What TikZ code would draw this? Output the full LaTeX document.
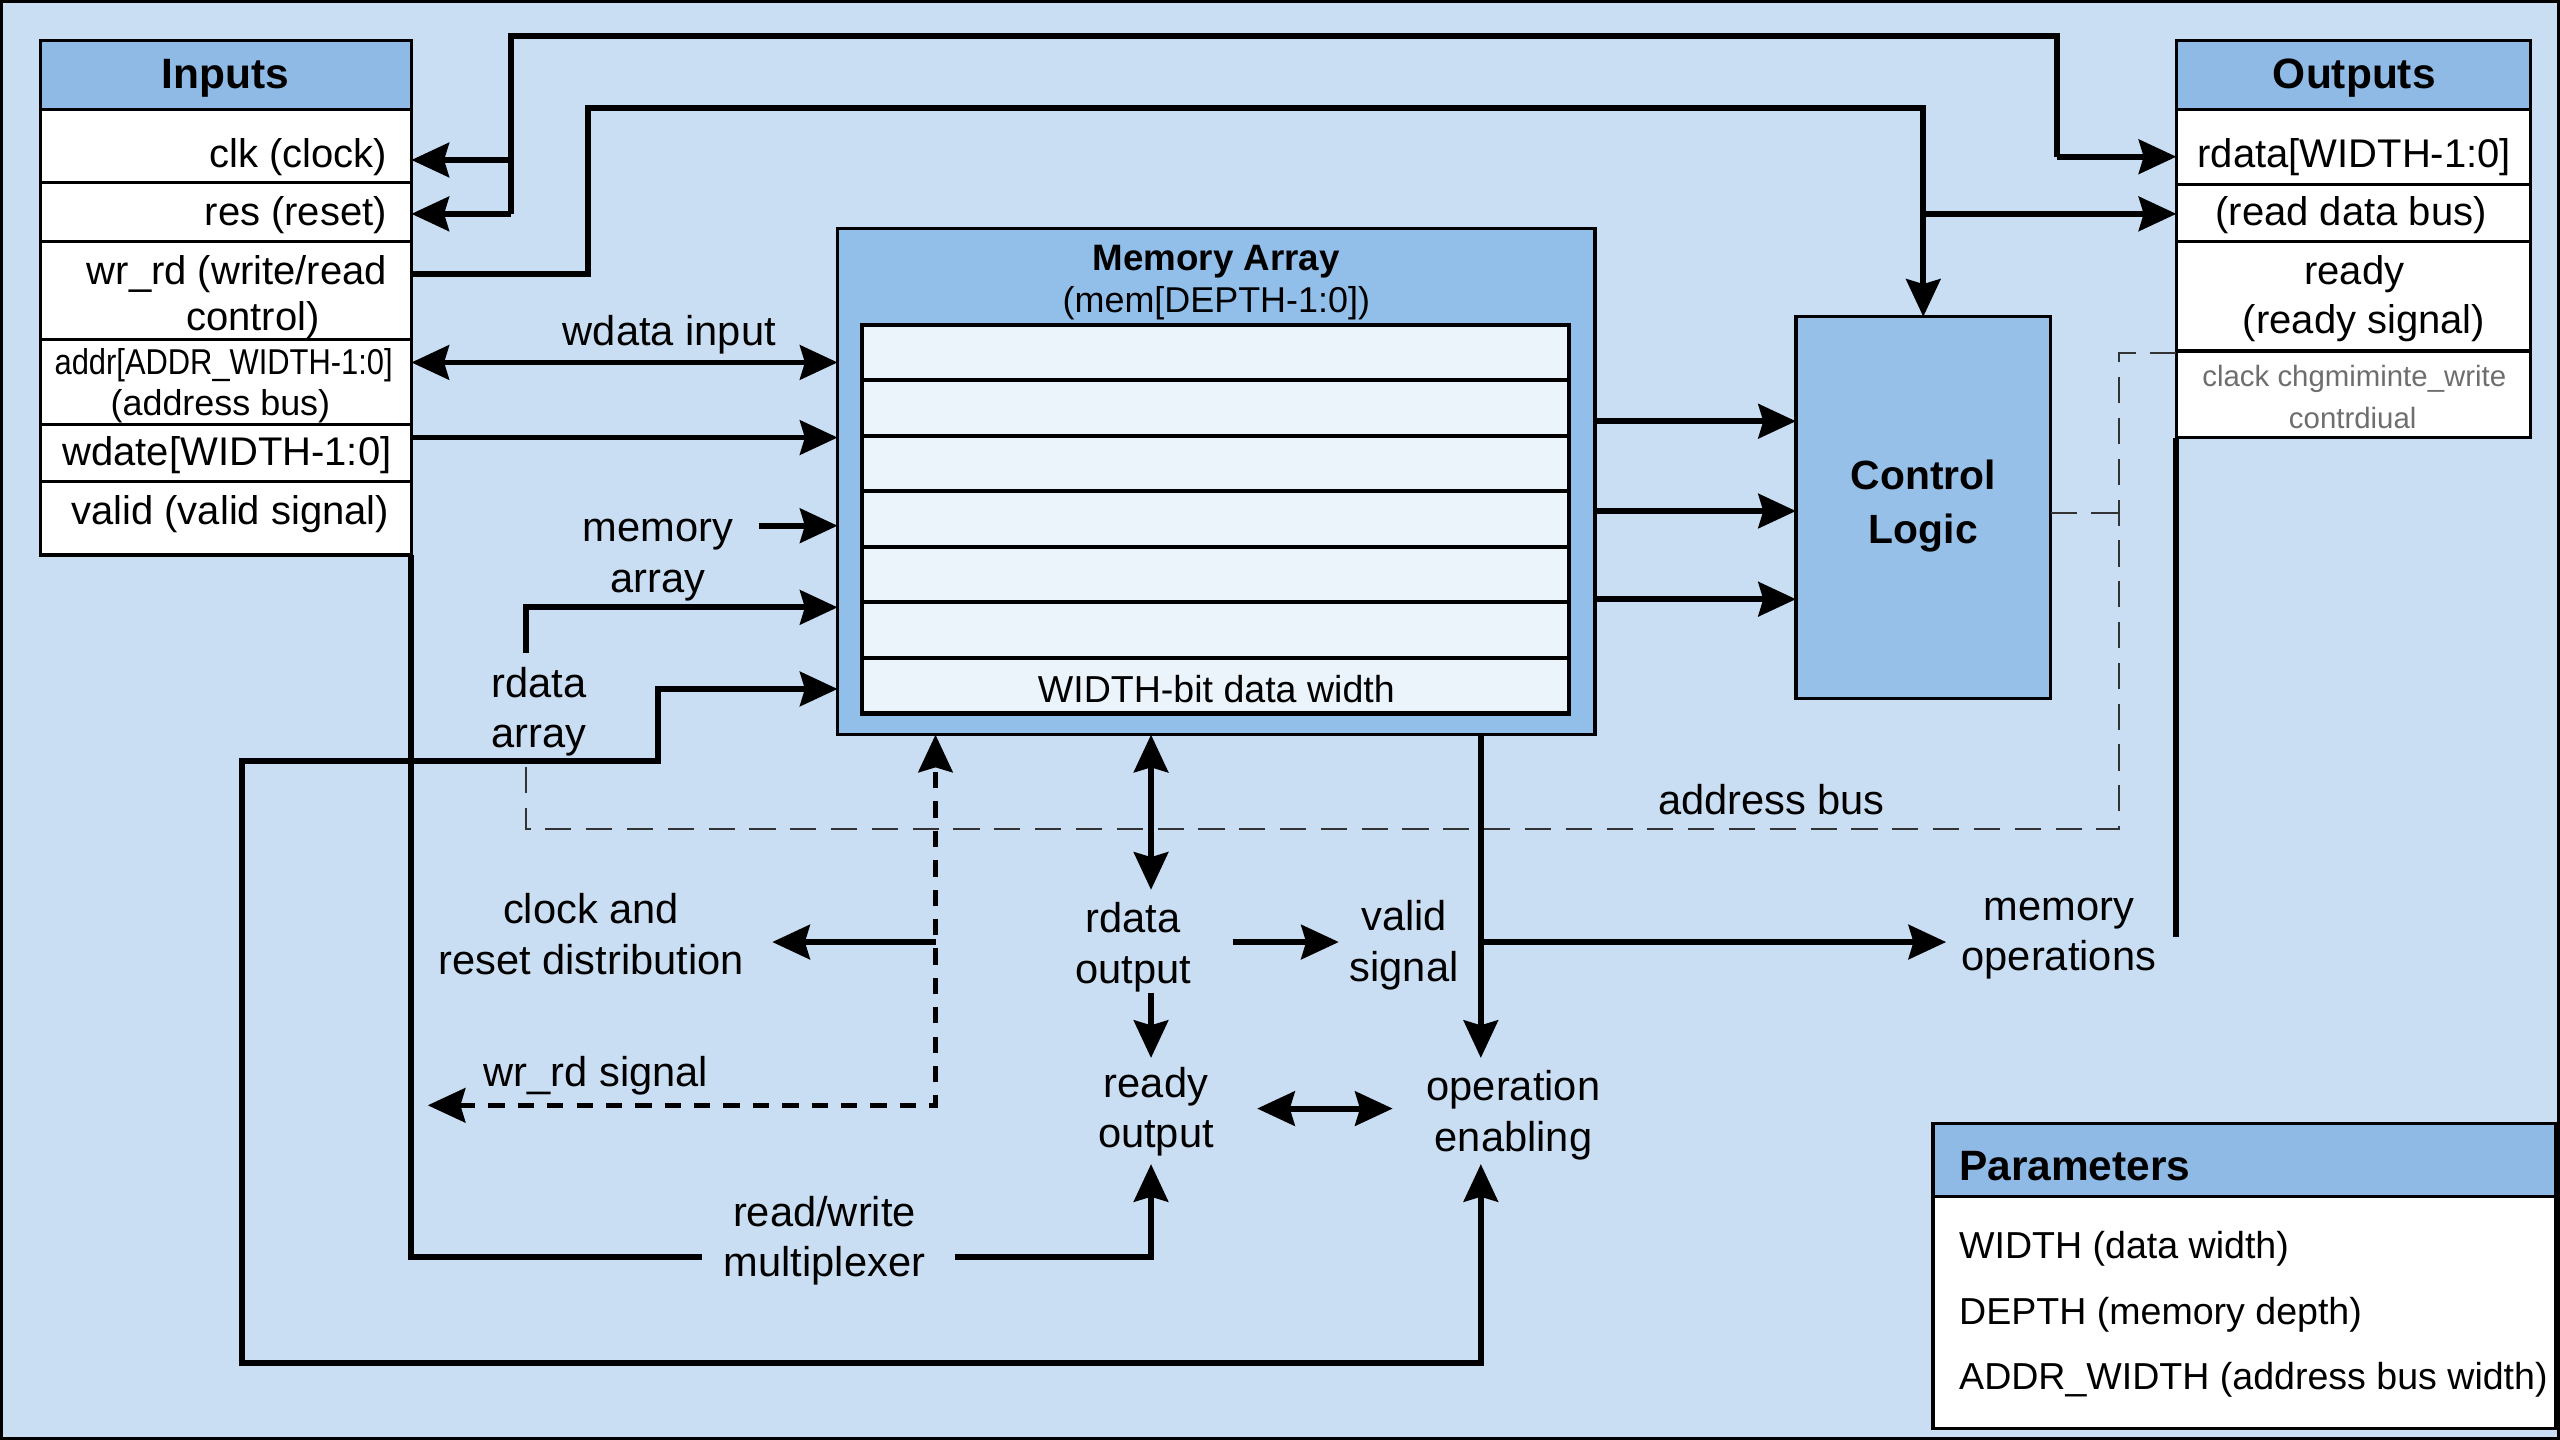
\documentclass[tikz,border=0pt]{standalone}
\usepackage{fontspec}
\setmainfont{Liberation Sans}
\usetikzlibrary{arrows.meta,calc}
\definecolor{bg}{HTML}{C9DEF2}
\definecolor{hdr}{HTML}{8FBAE5}
\definecolor{memc}{HTML}{92BEEA}
\definecolor{cellc}{HTML}{EBF3FB}
\definecolor{ctlc}{HTML}{97C0E8}
\definecolor{greytxt}{HTML}{6E6E6E}
\newcommand\mkbox[6]{\node[draw, line width=2pt, fill=#6, anchor=north west, minimum width={#4-#2}, minimum height={#5-#3}, inner sep=0pt] (#1) at (#2,#3) {};}
\begin{document}
\begin{tikzpicture}[x=1pt,y=-1pt,
  every node/.style={inner sep=0pt, outer sep=0pt},
  lbl/.style={font=\fontsize{25.5}{31}\selectfont, align=center},
  itm/.style={font=\fontsize{24.5}{30}\selectfont},
  hd/.style={font=\fontsize{26}{30}\selectfont\bfseries},
  wire/.style={line width=3.6pt},
  arr/.style={wire,-{Stealth[length=23pt,width=21pt,inset=3pt]}},
  darr/.style={wire,{Stealth[length=23pt,width=21pt,inset=3pt]}-{Stealth[length=23pt,width=21pt,inset=3pt]}},
  tdash/.style={line width=3.2pt, dash pattern=on 10pt off 8pt},
  thdash/.style={line width=1.2pt, dash pattern=on 16pt off 9pt, black!80}
]
\useasboundingbox (0,0) rectangle (1568,882);
\fill[bg] (0,0) rectangle (1568,882);
\draw[line width=4pt] (0,0) rectangle (1568,882);

% ---------------- Inputs
\mkbox{inhead}{25}{25}{252}{67}{hdr}
\mkbox{inrow1}{25}{67}{252}{112}{white}
\mkbox{inrow2}{25}{112}{252}{148}{white}
\mkbox{inrow3}{25}{148}{252}{208}{white}
\mkbox{inrow4}{25}{208}{252}{260}{white}
\mkbox{inrow5}{25}{260}{252}{295}{white}
\mkbox{inrow6}{25}{295}{252}{340}{white}
\node[hd] (tin) at (138,48) {Inputs};
\node[itm, anchor=east] (tclk) at (237,96) {clk (clock)};
\node[itm, anchor=east] (tres) at (237,132) {res (reset)};
\node[itm, anchor=east] (twr1) at (237,168) {wr\_rd (write/read};
\node[itm] (twr2) at (155,196) {control)};
\node[font=\fontsize{22}{24}\selectfont] (tad1) at (137,224) {\scalebox{0.86}[1]{addr[ADDR\_WIDTH-1:0]}};
\node[font=\fontsize{22}{26}\selectfont] (tad2) at (135,249) {(address bus)};
\node[itm] (twd) at (139,279) {wdate[WIDTH-1:0]};
\node[itm] (tval) at (141,315) {valid (valid signal)};

% ---------------- Outputs
\mkbox{outhead}{1333}{25}{1550}{67}{hdr}
\mkbox{outrow1}{1333}{67}{1550}{113}{white}
\mkbox{outrow2}{1333}{113}{1550}{148}{white}
\mkbox{outrow3}{1333}{148}{1550}{215}{white}
\mkbox{outrow4}{1333}{215}{1550}{268}{white}
\node[hd] (tout) at (1442,48) {Outputs};
\node[itm] (trd1) at (1442,96) {rdata[WIDTH-1:0]};
\node[itm] (trd2) at (1440,132) {(read data bus)};
\node[itm] (trdy1) at (1442,168) {ready};
\node[itm] (trdy2) at (1448,198) {(ready signal)};
\node[font=\fontsize{18}{22}\selectfont, text=greytxt] (tg1) at (1442,232) {clack chgmiminte\_write};
\node[font=\fontsize{18}{22}\selectfont, text=greytxt] (tg2) at (1441,256) {contrdiual};

% ---------------- Memory array
\mkbox{mem}{513}{140}{977}{450}{memc}
\node[font=\fontsize{22.5}{26}\selectfont\bfseries] (tmem1) at (745,160) {Memory Array};
\node[font=\fontsize{22}{26}\selectfont] (tmem2) at (745,186) {(mem[DEPTH-1:0])};
\foreach \i/\yy in {0/199,1/233,2/267,3/301,4/335,5/369,6/403}{
  \node[draw, line width=2.5pt, fill=cellc, anchor=north west, minimum width=433, minimum height=34] (cell\i) at (528,\yy) {};
}
\node[font=\fontsize{23}{26}\selectfont] (tww) at (745,422) {WIDTH-bit data width};

% ---------------- Control logic
\mkbox{ctl}{1100}{194}{1256}{428}{ctlc}
\node[hd, align=center, font=\fontsize{25}{33}\selectfont\bfseries] (tctl) at (1178,310) {Control\\Logic};

% ---------------- Parameters
\mkbox{parhead}{1184}{688}{1565}{733}{hdr}
\mkbox{parbody}{1184}{733}{1565}{875}{white}
\node[hd, anchor=west] (tpar) at (1200,714) {Parameters};
\node[font=\fontsize{23}{26}\selectfont, anchor=west] (tp1) at (1200,765) {WIDTH (data width)};
\node[font=\fontsize{23}{26}\selectfont, anchor=west] (tp2) at (1200,805) {DEPTH (memory depth)};
\node[font=\fontsize{23}{26}\selectfont, anchor=west] (tp3) at (1200,845) {ADDR\_WIDTH (address bus width)};

% ---------------- Labels
\node[lbl] (lwdata) at (410,205) {wdata input};
\node[lbl] (lmemarr) at (403,343) {memory\\array};
\node[lbl] (lrdarr) at (330,436) {rdata\\array};
\node[lbl] (lclk) at (362,572) {clock and\\reset distribution};
\node[lbl] (lwrrd) at (365,659) {wr\_rd signal};
\node[lbl] (lrdout) at (694,580) {rdata\\output};
\node[lbl] (lvalid) at (860,579) {valid\\signal};
\node[lbl] (lready) at (708,681) {ready\\output};
\node[lbl] (lopen) at (927,683) {operation\\enabling};
\node[lbl] (lmux) at (505,760) {read/write\\multiplexer};
\node[lbl] (lmemop) at (1261,575) {memory\\operations};
\node[lbl] (laddr) at (1085,490) {address bus};

% ---------------- coordinates
\coordinate (a0) at (313,131);
\coordinate (a1) at (313,98);
\coordinate (a2) at (313,22);
\coordinate (a3) at (1260,22);
\coordinate (a4) at (1260,96);
\coordinate (b0) at (252,168);
\coordinate (b1) at (360,168);
\coordinate (b2) at (360,66);
\coordinate (b3) at (1178,131);
\coordinate (c0) at (252,222);
\coordinate (d0) at (252,268);
\coordinate (e0) at (465,322);
\coordinate (f0) at (322,400);
\coordinate (f1) at (322,372);
\coordinate (h1) at (148,466);
\coordinate (h2) at (403,466);
\coordinate (h3) at (403,422);
\coordinate (h4) at (148,835);
\coordinate (h5) at (907,835);
\coordinate (opbot) at (907,713);
\coordinate (optop) at (907,648);
\coordinate (i2) at (252,770);
\coordinate (i3) at (430,770);
\coordinate (i4) at (585,770);
\coordinate (i5) at (705,770);
\coordinate (rdybot) at (705,713);
\coordinate (rdytop) at (705,648);
\coordinate (rdo) at (705,545);
\coordinate (rdob) at (705,608);
\coordinate (vs0) at (755,577);
\coordinate (vs1) at (820,577);
\coordinate (ro0) at (770,679);
\coordinate (ro1) at (853,679);
\coordinate (mo0) at (907,577);
\coordinate (mo1) at (1192,577);
\coordinate (k0) at (573,677);
\coordinate (k1) at (262,677);
\coordinate (k2) at (573,577);
\coordinate (k3) at (473,577);
\coordinate (q1) at (1333,574);
\coordinate (ab0) at (322,470);
\coordinate (ab1) at (322,508);
\coordinate (ab2) at (1298,508);
\coordinate (ab3) at (1298,216);
\coordinate (ab4) at (1298,314);

% ---------------- connectors
\draw[wire, line join=miter] (a0) -- (a2) -- (a3) -- (a4);
\draw[arr] (a4) -- (a4 -| outrow1.west);
\draw[arr] (a1) -- (a1 -| inrow1.east);
\draw[arr] (a0) -- (a0 -| inrow2.east);

\draw[arr, line join=miter] (b0 -| inrow3.east) -- (b1) -- (b2) -- (b2 -| ctl.north) -- (ctl.north);
\draw[arr] (b3) -- (b3 -| outrow2.west);

\draw[darr] (c0 -| inrow4.east) -- (c0 -| mem.west);
\draw[arr] (d0 -| inrow5.east) -- (d0 -| mem.west);
\draw[arr] (e0) -- (e0 -| mem.west);
\draw[arr, line join=miter] (f0) -- (f1) -- (f1 -| mem.west);
\draw[darr, line join=miter] (opbot) -- (h5) -- (h4) -- (h1) -- (h2) -- (h3) -- (h3 -| mem.west);

\draw[wire, line join=miter] (inrow6.south east) -- (i2) -- (i3);
\draw[arr, line join=miter] (i4) -- (i5) -- (rdybot);

\draw[thdash] (ab0) -- (ab1) -- (ab2) -- (ab3) -- (ab3 -| outrow4.west);
\draw[thdash] (ab4 -| ctl.east) -- (ab4);

\draw[tdash, {Stealth[length=23pt,width=21pt,inset=3pt]}-{Stealth[length=23pt,width=21pt,inset=3pt]}] (k1) -- (k0) -- (k0 |- mem.south);
\draw[arr] (k2) -- (k3);

\draw[darr] (rdo |- mem.south) -- (rdo);
\draw[arr] (vs0) -- (vs1);
\draw[arr] (rdob) -- (rdytop);
\draw[darr] (ro0) -- (ro1);
\draw[arr] (optop |- mem.south) -- (optop);
\draw[arr] (mo0) -- (mo1);
\draw[wire] (outrow4.south west) -- (q1);

\foreach \yy in {258,313,367}{
  \draw[arr] (mem.east |- 0,\yy) -- (ctl.west |- 0,\yy);
}
\end{tikzpicture}
\end{document}
